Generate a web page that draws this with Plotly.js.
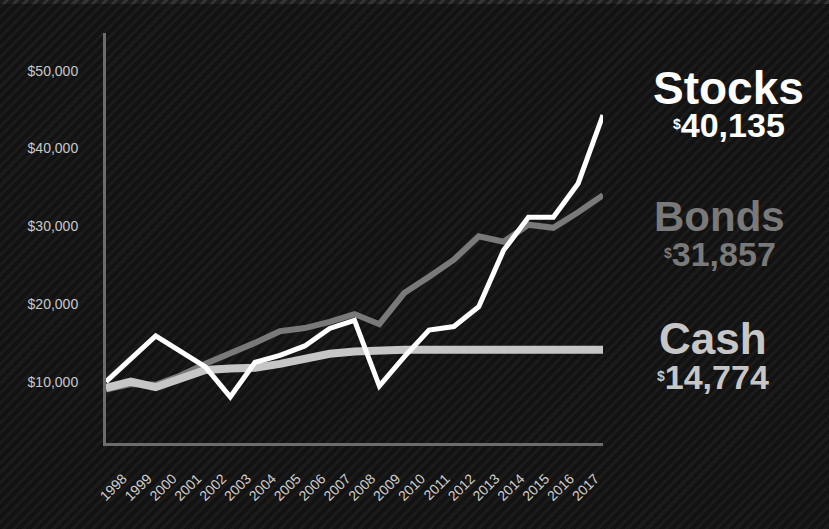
<!DOCTYPE html>
<html>
<head>
<meta charset="utf-8">
<script src="https://cdn.plot.ly/plotly-3.0.1.min.js"></script>
<style>
  html, body { margin: 0; padding: 0; }
  body {
    width: 829px; height: 529px; overflow: hidden; position: relative;
    background: repeating-linear-gradient(135deg, #121212 0px, #121212 4px, #1b1b1b 4px, #1b1b1b 7px);
  }
  #topband {
    position: absolute; left: 0; top: 0; width: 829px; height: 4px;
    background: repeating-linear-gradient(135deg, #1e1e1e 0px, #1e1e1e 4px, #3a3a3a 4px, #3a3a3a 7px);
    opacity: 0.8;
  }
  #chart { position: absolute; left: 0; top: 0; width: 829px; height: 529px; }
</style>
</head>
<body>
<div id="topband"></div>
<div id="chart"></div>
<script>
// Period positions (first point is the starting balance, before 1998)
const periods = [1997, 1998, 1999, 2000, 2001, 2002, 2003, 2004, 2005, 2006, 2007,
                 2008, 2009, 2010, 2011, 2012, 2013, 2014, 2015, 2016, 2017];
const yearLabels = ['1998','1999','2000','2001','2002','2003','2004','2005','2006','2007',
                    '2008','2009','2010','2011','2012','2013','2014','2015','2016','2017'];
const stocks = [10000, 12850, 15900, 13900, 11900, 8050, 12500, 13400, 14600, 16850, 17900,
                9450, 13200, 16650, 17100, 19650, 26900, 31150, 31150, 35500, 44300];
const bonds  = [9000, 9700, 9600, 10800, 12300, 13600, 15000, 16500, 16900, 17700, 18700,
                17400, 21400, 23500, 25700, 28700, 28000, 30200, 29800, 31800, 34000];
const cash   = [9200, 10000, 9300, 10500, 11500, 11700, 11800, 12300, 12900, 13600, 13900,
                14100, 14100, 14100, 14100, 14100, 14100, 14100, 14100, 14100, 14100];
const seriesNames = ['Stocks', 'Bonds', 'Cash'];
const finalValues = [40135, 31857, 14774];
const yTickVals = [10000, 20000, 30000, 40000, 50000];
const yTickText = ['$10,000', '$20,000', '$30,000', '$40,000', '$50,000'];

const colors = { Stocks: '#ffffff', Bonds: '#797979', Cash: '#c6c6c6' };
const widths = { Stocks: 5, Bonds: 6, Cash: 8 };
const dataBy = { Stocks: stocks, Bonds: bonds, Cash: cash };

// draw order: bonds, cash, stocks on top
const traces = ['Bonds', 'Cash', 'Stocks'].map(n => ({
  type: 'scatter', mode: 'lines', name: n,
  x: periods, y: dataBy[n],
  line: { color: colors[n], width: widths[n], shape: 'linear' },
  hoverinfo: 'skip'
}));

const font = 'Liberation Sans, Arial, sans-serif';
const labelPos = {
  Stocks: { x: 1.2535, y: 0.866, size: 46, vy: 0.775 },
  Bonds:  { x: 1.235,  y: 0.553, size: 42, vy: 0.46 },
  Cash:   { x: 1.222,  y: 0.256, size: 44, vy: 0.162 }
};
const annotations = [];
seriesNames.forEach((n, i) => {
  const p = labelPos[n];
  annotations.push({
    xref: 'paper', yref: 'paper', x: p.x, y: p.y, xanchor: 'center', yanchor: 'middle',
    text: '<b>' + n + '</b>', showarrow: false,
    font: { family: font, size: p.size, color: colors[n] }
  });
  annotations.push({
    xref: 'paper', yref: 'paper', x: p.x, y: p.vy, xanchor: 'center', yanchor: 'middle',
    text: '<b><span style="font-size:20px"><sup>$</sup></span>' + finalValues[i].toLocaleString('en-US') + '</b>',
    showarrow: false,
    font: { family: font, size: 34, color: colors[n] }
  });
});

const layout = {
  width: 829, height: 529,
  margin: { l: 106, r: 226, t: 33, b: 86 },
  paper_bgcolor: 'rgba(0,0,0,0)', plot_bgcolor: 'rgba(0,0,0,0)',
  showlegend: false,
  xaxis: {
    range: [1997, 2017], tickvals: periods.slice(1), ticktext: yearLabels,
    tickangle: -45, showgrid: false, zeroline: false,
    showline: true, linecolor: '#6c6c6c', linewidth: 3,
    ticks: 'outside', ticklen: 19, tickcolor: 'rgba(0,0,0,0)',
    ticklabelshift: -8,
    tickfont: { family: font, size: 14, color: '#d0d0d0' }
  },
  yaxis: {
    range: [2120, 54850], tickvals: yTickVals, ticktext: yTickText,
    showgrid: false, zeroline: false,
    showline: true, linecolor: '#6c6c6c', linewidth: 3,
    ticks: 'outside', ticklen: 22, tickcolor: 'rgba(0,0,0,0)',
    tickfont: { family: font, size: 14, color: '#c8c8c8' }
  },
  annotations: annotations
};

Plotly.newPlot('chart', traces, layout, { staticPlot: true, displayModeBar: false });
</script>
</body>
</html>
